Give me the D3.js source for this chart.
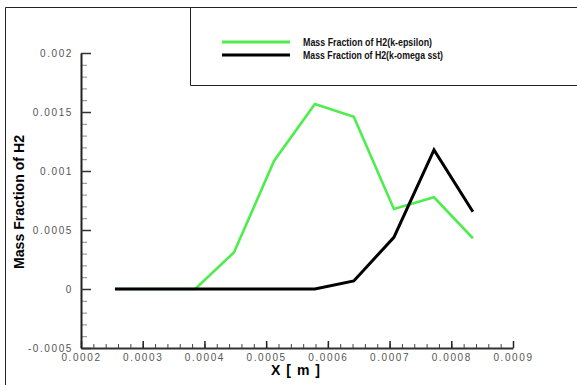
<!DOCTYPE html>
<html>
<head>
<meta charset="utf-8">
<script src="https://cdn.jsdelivr.net/npm/d3@7"></script>
<style>
  body { margin: 0; background: #fff; }
  svg { display: block; font-family: "Liberation Sans", Arial, sans-serif; }
  .tick text { fill: #555; font-size: 10px; letter-spacing: 1.6px; }
</style>
</head>
<body>
<svg width="577" height="385"></svg>
<script>
// x positions [m] of the sampled points
var xPos = [0.000255, 0.00032, 0.000385, 0.000448, 0.000513, 0.000579, 0.000642, 0.000707, 0.000772, 0.000835];
// mass fraction of H2, k-epsilon model
var kEpsilon = [0, 0, 0, 0.000311, 0.001087, 0.001568, 0.00146, 0.000678, 0.000777, 0.00043];
// mass fraction of H2, k-omega sst model
var kOmegaSst = [0, 0, 0, 0, 0, 0, 0.000068, 0.000438, 0.001178, 0.000655];

var seriesNames = ["Mass Fraction of H2(k-epsilon)", "Mass Fraction of H2(k-omega sst)"];
var seriesColors = ["#4ded4d", "#000000"];

var xTicks = [0.0002, 0.0003, 0.0004, 0.0005, 0.0006, 0.0007, 0.0008, 0.0009];
var xTickLabels = ["0.0002", "0.0003", "0.0004", "0.0005", "0.0006", "0.0007", "0.0008", "0.0009"];
var yTicks = [-0.0005, 0, 0.0005, 0.001, 0.0015, 0.002];
var yTickLabels = ["-0.0005", "0", "0.0005", "0.001", "0.0015", "0.002"];

function init() {
    var svg = d3.select("svg");

    var x = d3.scaleLinear().domain([0.0002, 0.0009]).range([81, 513]),
        y = d3.scaleLinear().domain([-0.0005, 0.002]).range([348, 53]);

    // outer frame (left and top only) and legend box
    svg.append("path")
        .attr("d", "M5.5,385V7.5H577")
        .attr("fill", "none")
        .attr("stroke", "#222")
        .attr("stroke-width", 1);
    svg.append("path")
        .attr("d", "M190.5,7.5V85.5H577")
        .attr("fill", "none")
        .attr("stroke", "#222")
        .attr("stroke-width", 1);

    // minor ticks
    var xMinor = d3.range(0.0002, 0.00090001, 0.00002);
    var yMinor = d3.range(-0.0005, 0.0020001, 0.0001);

    svg.append("g")
        .attr("transform", "translate(0,348)")
        .call(d3.axisBottom(x).tickValues(xMinor).tickSize(-4).tickFormat(""))
        .call(function(g) { g.select(".domain").remove(); g.selectAll("line").attr("stroke", "#444"); });

    svg.append("g")
        .attr("transform", "translate(81,0)")
        .call(d3.axisLeft(y).tickValues(yMinor).tickSize(-6).tickFormat(""))
        .call(function(g) { g.select(".domain").remove(); g.selectAll("line").attr("stroke", "#888"); });

    // major axes
    var xAxis = d3.axisBottom(x)
        .tickValues(xTicks)
        .tickSizeInner(-7)
        .tickSizeOuter(0)
        .tickPadding(6)
        .tickFormat(function(d, i) { return xTickLabels[i]; });

    var yAxis = d3.axisLeft(y)
        .tickValues(yTicks)
        .tickSizeInner(-10)
        .tickSizeOuter(0)
        .tickPadding(8)
        .tickFormat(function(d, i) { return yTickLabels[i]; });

    svg.append("g")
        .attr("class", "axis axis--x")
        .attr("transform", "translate(0,348)")
        .call(xAxis)
        .call(function(g) {
            g.select(".domain").attr("stroke", "#333").attr("stroke-width", 2);
            g.selectAll(".tick line").attr("stroke", "#222").attr("stroke-width", 1.5);
            g.selectAll(".tick text").attr("font-size", null);
        });

    svg.append("g")
        .attr("class", "axis axis--y")
        .attr("transform", "translate(81,0)")
        .call(yAxis)
        .call(function(g) {
            g.select(".domain").attr("stroke", "#222").attr("stroke-width", 2);
            g.selectAll(".tick line").attr("stroke", "#333").attr("stroke-width", 1.5);
            g.selectAll(".tick text").attr("font-size", null);
        });

    // axis titles
    svg.append("text")
        .attr("x", 296)
        .attr("y", 375)
        .attr("text-anchor", "middle")
        .attr("font-weight", "bold")
        .attr("font-size", 14)
        .attr("letter-spacing", "1px")
        .text("X [ m ]");

    svg.append("text")
        .attr("transform", "translate(24,202) rotate(-90)")
        .attr("text-anchor", "middle")
        .attr("font-weight", "bold")
        .attr("font-size", 14)
        .attr("textLength", 134)
        .attr("lengthAdjust", "spacingAndGlyphs")
        .text("Mass Fraction of H2");

    // lines
    var line = d3.line()
        .x(function(d, i) { return x(xPos[i]); })
        .y(function(d) { return y(d); });

    var series = [kEpsilon, kOmegaSst];
    var widths = [2.6, 3];

    series.forEach(function(s, k) {
        svg.append("path")
            .datum(s)
            .attr("fill", "none")
            .attr("stroke", seriesColors[k])
            .attr("stroke-width", widths[k])
            .attr("stroke-linejoin", "miter")
            .attr("d", line);
    });

    // legend
    var textLens = [129, 140];
    seriesNames.forEach(function(name, k) {
        var ly = 42 + k * 13;
        svg.append("line")
            .attr("x1", 222).attr("x2", 290)
            .attr("y1", ly).attr("y2", ly)
            .attr("stroke", seriesColors[k])
            .attr("stroke-width", 3);
        svg.append("text")
            .attr("x", 303)
            .attr("y", ly + 4)
            .attr("font-size", 10.5)
            .attr("font-weight", "bold")
            .attr("fill", "#111")
            .attr("textLength", textLens[k])
            .attr("lengthAdjust", "spacingAndGlyphs")
            .text(name);
    });
}
init();
</script>
</body>
</html>
